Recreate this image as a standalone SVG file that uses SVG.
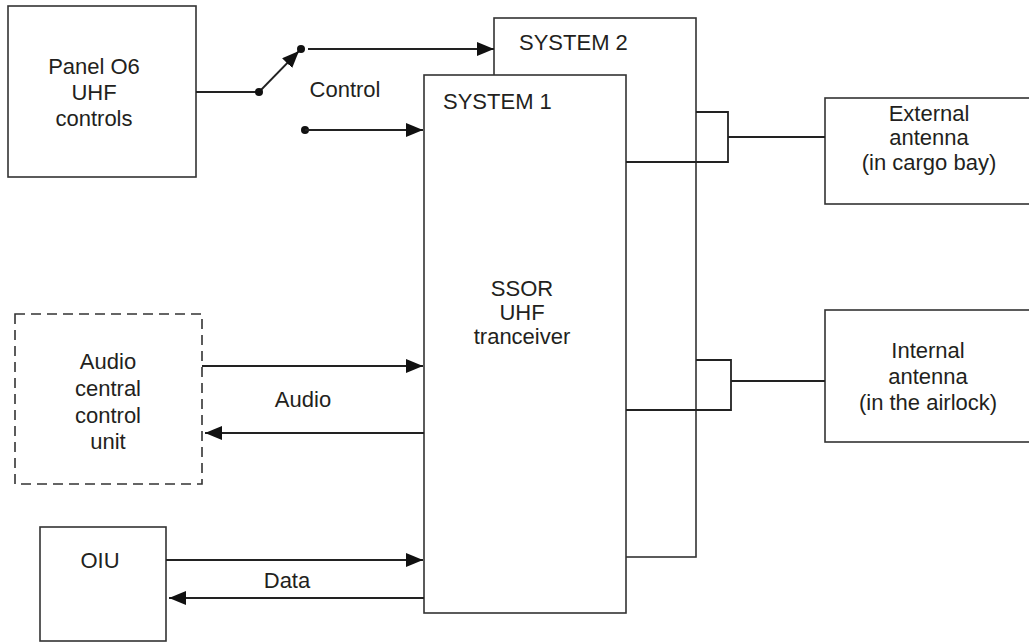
<svg xmlns="http://www.w3.org/2000/svg" width="1029" height="643" viewBox="0 0 1029 643">
<defs>
<style>
.box{fill:#fff;stroke:#333;stroke-width:1.6}
.dash{fill:#fff;stroke:#333;stroke-width:1.6;stroke-dasharray:10 6}
.ln{fill:none;stroke:#222;stroke-width:1.8}
.t{font-family:"Liberation Sans",Arial,sans-serif;font-size:22px;fill:#231f20}
.c{text-anchor:middle}
.dot{fill:#111}
</style>
<marker id="ah" markerUnits="userSpaceOnUse" markerWidth="18" markerHeight="15" refX="17" refY="7" orient="auto">
<path d="M0,0 L17,7 L0,14 z" fill="#111"/>
</marker>
</defs>
<rect width="1029" height="643" fill="#fff"/>

<g id="panel">
<rect class="box" x="8" y="6" width="188" height="171"/>
<text class="t c" x="94" y="74">Panel O6</text>
<text class="t c" x="94" y="100">UHF</text>
<text class="t c" x="94" y="126">controls</text>
</g>

<g id="system2">
<rect class="box" x="494" y="18" width="202" height="539"/>
<text class="t" x="519" y="50">SYSTEM 2</text>
</g>

<g id="system1">
<rect class="box" x="424" y="75" width="202" height="538"/>
<text class="t" x="443" y="109">SYSTEM 1</text>
<text class="t c" x="522" y="296">SSOR</text>
<text class="t c" x="522" y="320">UHF</text>
<text class="t c" x="522" y="344">tranceiver</text>
</g>

<g id="external">
<rect class="box" x="825" y="98" width="210" height="106"/>
<text class="t c" x="929" y="121">External</text>
<text class="t c" x="929" y="145">antenna</text>
<text class="t c" x="929" y="170">(in cargo bay)</text>
</g>

<g id="internal">
<rect class="box" x="825" y="310" width="210" height="132"/>
<text class="t c" x="928" y="358">Internal</text>
<text class="t c" x="928" y="384">antenna</text>
<text class="t c" x="928" y="410">(in the airlock)</text>
</g>

<g id="audio">
<rect class="dash" x="15" y="314" width="187" height="170"/>
<text class="t c" x="108" y="369">Audio</text>
<text class="t c" x="108" y="396">central</text>
<text class="t c" x="108" y="423">control</text>
<text class="t c" x="108" y="449">unit</text>
</g>

<g id="oiu">
<rect class="box" x="40" y="527" width="126" height="114"/>
<text class="t c" x="100" y="568">OIU</text>
</g>

<g id="connectors">
<line class="ln" x1="196" y1="92" x2="259" y2="92"/>
<line class="ln" x1="259" y1="92" x2="299" y2="51" marker-end="url(#ah)"/>
<circle class="dot" cx="259" cy="92" r="4"/>
<circle class="dot" cx="301" cy="49" r="4"/>
<line class="ln" x1="308" y1="49" x2="494" y2="49" marker-end="url(#ah)"/>
<circle class="dot" cx="305" cy="130" r="4"/>
<line class="ln" x1="305" y1="130" x2="423" y2="130" marker-end="url(#ah)"/>
<text class="t c" x="345" y="97">Control</text>

<polyline class="ln" points="626,162 728,162 728,112 696,112"/>
<line class="ln" x1="728" y1="137" x2="825" y2="137"/>
<polyline class="ln" points="626,410 731,410 731,360 696,360"/>
<line class="ln" x1="731" y1="381" x2="825" y2="381"/>

<line class="ln" x1="202" y1="366" x2="423" y2="366" marker-end="url(#ah)"/>
<line class="ln" x1="424" y1="433" x2="205" y2="433" marker-end="url(#ah)"/>
<text class="t c" x="303" y="407">Audio</text>

<line class="ln" x1="166" y1="560" x2="423" y2="560" marker-end="url(#ah)"/>
<line class="ln" x1="424" y1="598" x2="169" y2="598" marker-end="url(#ah)"/>
<text class="t c" x="287" y="588">Data</text>
</g>
</svg>
